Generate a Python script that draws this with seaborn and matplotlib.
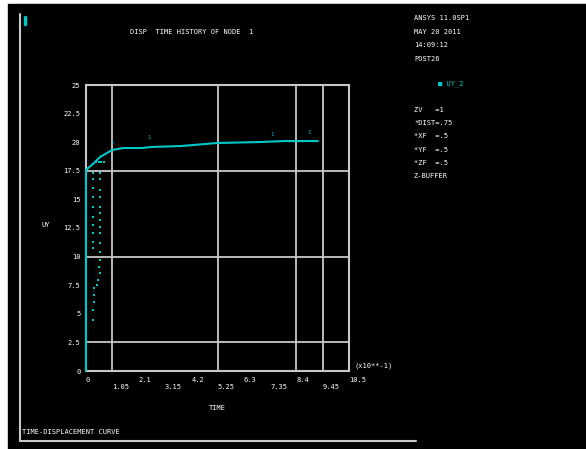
import matplotlib
matplotlib.use("Agg")
import matplotlib.pyplot as plt
import seaborn as sns
import pandas as pd

# main load curve (x in axis units, y in axis units)
curve_x = [0.0, 0.0, 0.36, 0.56, 0.84, 1.04, 1.48, 2.24, 2.60, 3.83, 5.23, 7.03, 7.87, 9.26]
curve_y = [0.0, 17.57, 18.27, 18.71, 19.06, 19.32, 19.49, 19.49, 19.58, 19.67, 19.93, 20.02, 20.10, 20.10]

# scattered response points near the origin
dots_x = [0.29, 0.29, 0.29, 0.29, 0.29, 0.29, 0.29, 0.29, 0.29, 0.29,
          0.56, 0.56, 0.56, 0.56, 0.56, 0.56, 0.56, 0.56, 0.56, 0.56, 0.56,
          0.56, 0.53, 0.56, 0.49, 0.43, 0.33, 0.32, 0.33, 0.29, 0.29,
          0.40, 0.50, 0.60, 0.70]
dots_y = [17.31, 16.78, 16.00, 15.21, 14.34, 13.46, 12.76, 12.06, 11.28, 10.75,
          17.31, 16.78, 15.82, 15.21, 14.34, 13.81, 13.20, 12.59, 12.06, 11.19, 10.40,
          9.70, 9.09, 8.57, 7.95, 7.52, 7.26, 6.64, 6.03, 5.33, 4.46,
          18.27, 18.27, 18.27, 18.27]

x_ticks = [0, 1.05, 2.1, 3.15, 4.2, 5.25, 6.3, 7.35, 8.4, 9.45, 10.5]
x_labels = ["0", "1.05", "2.1", "3.15", "4.2", "5.25", "6.3", "7.35", "8.4", "9.45", "10.5"]
y_ticks = [0, 2.5, 5, 7.5, 10, 12.5, 15, 17.5, 20, 22.5, 25]
y_labels = ["0", "2.5", "5", "7.5", "10", "12.5", "15", "17.5", "20", "22.5", "25"]
x_grid = [1.05, 5.25, 8.4, 9.45]
y_grid = [2.5, 10, 17.5]

label_marks_x = [1.04, 2.52, 7.43, 8.90]
label_marks_y = [19.76, 20.19, 20.45, 20.63]

info_lines = ["ANSYS 11.0SP1", "MAY 20 2011", "14:09:12", "POST26"]
view_lines = ["ZV   =1", "*DIST=.75", "*XF  =.5", "*YF  =.5", "*ZF  =.5", "Z-BUFFER"]

CYAN = "#00c8c8"
GRID = "#c8c8c8"
W, H = 586, 449

sns.set_theme(style="dark")
plt.rcParams["font.family"] = ["DejaVu Sans Mono", "DejaVu Sans"]

fig = plt.figure(figsize=(W / 100, H / 100), dpi=100, facecolor="white")

# full-figure overlay in pixel coordinates
bg = fig.add_axes([0, 0, 1, 1])
bg.set_xlim(0, W)
bg.set_ylim(H, 0)
bg.axis("off")
bg.add_patch(plt.Rectangle((8, 4), W - 8, H - 4, color="black", zorder=0))
bg.plot([20, 20], [14, 441], color=GRID, lw=1.5)
bg.plot([20, 416], [441, 441], color=GRID, lw=1.5)
bg.plot([25, 25], [17, 24], color=CYAN, lw=2.5)

fs = 5
bg.text(130, 32, "DISP  TIME HISTORY OF NODE  1", color="white", fontsize=fs, va="center")
for i, t in enumerate(info_lines):
    bg.text(414, 18 + i * 13.6, t, color="white", fontsize=fs, va="center")
bg.text(438, 84, "\u25a0 UY_2", color=CYAN, fontsize=fs, va="center")
for i, t in enumerate(view_lines):
    bg.text(414, 110 + i * 13.2, t, color="white", fontsize=fs, va="center")
bg.text(46, 225, "UY", color="white", fontsize=fs, va="center", ha="center")
bg.text(217, 408, "TIME", color="white", fontsize=fs, va="center", ha="center")
bg.text(355, 366, "(x10**-1)", color="white", fontsize=fs, va="center")
bg.text(22, 432, "TIME-DISPLACEMENT CURVE", color="white", fontsize=fs, va="center")

# plot area
ax = fig.add_axes([86 / W, (H - 371) / H, 263 / W, 286 / H])
ax.set_facecolor("black")
ax.set_xlim(0, 10.5)
ax.set_ylim(0, 25)
for s in ax.spines.values():
    s.set_color(GRID)
    s.set_linewidth(1.5)
for gx in x_grid:
    ax.axvline(gx, color=GRID, lw=1.3, zorder=1)
for gy in y_grid:
    ax.axhline(gy, color=GRID, lw=1.3, zorder=1)

df = pd.DataFrame({"x": curve_x, "y": curve_y})
sns.lineplot(data=df, x="x", y="y", sort=False, estimator=None, color=CYAN, lw=1.5,
             ax=ax, zorder=5, clip_on=False)
dots = pd.DataFrame({"x": dots_x, "y": dots_y})
sns.scatterplot(data=dots, x="x", y="y", color=CYAN, marker="s", s=3, linewidth=0, ax=ax, zorder=3)
for mx, my in zip(label_marks_x, label_marks_y):
    ax.text(mx, my, "1", color=CYAN, fontsize=4, ha="center", va="bottom")

ax.set_xticks(x_ticks)
ax.set_xticklabels([l if i % 2 == 0 else "\n" + l for i, l in enumerate(x_labels)],
                   fontsize=fs, color="white", ha="left", va="top")
ax.set_yticks(y_ticks)
ax.set_yticklabels(y_labels, fontsize=fs, color="white")
ax.tick_params(length=0, pad=4)
ax.set_xlabel("")
ax.set_ylabel("")
ax.grid(False)

fig.savefig("out.png", dpi=100, facecolor="white")
